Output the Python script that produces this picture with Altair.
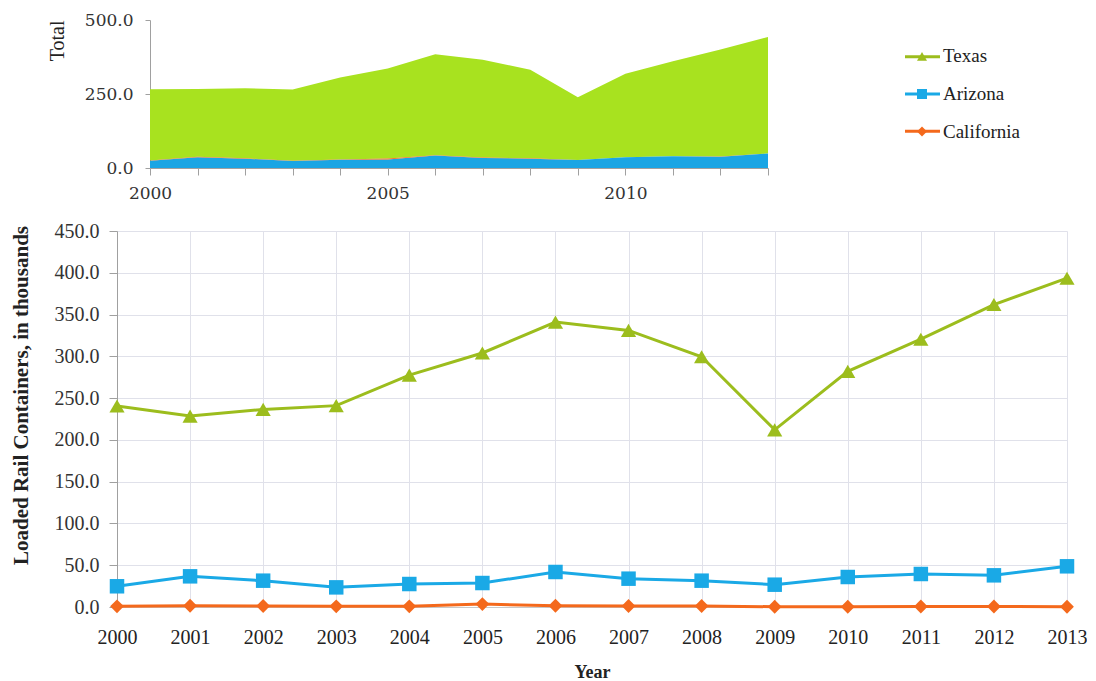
import altair as alt
import pandas as pd

years = list(range(2000, 2014))
series = ["Texas", "Arizona", "California"]
texas = [240.5, 228.5, 236.5, 241.0, 277.5, 304.0, 341.0, 331.0, 299.5, 212.0, 282.0, 320.5, 362.0, 393.5]
arizona = [24.8, 36.7, 31.5, 23.5, 27.5, 28.7, 41.9, 33.9, 31.5, 26.7, 35.9, 39.5, 37.9, 48.7]
california = [0.8, 1.5, 1.2, 0.8, 0.8, 3.5, 1.5, 1.2, 1.2, 0.3, 0.3, 0.6, 0.6, 0.3]
stack_order = [2, 0, 1]

line_colors = ["#9CBD1D", "#1AA9E6", "#F4691C"]
area_colors = ["#A8E21F", "#1AA5E4", "#F4691C"]
shapes = ["triangle-up", "square", "diamond"]
marker_sizes = [230, 190, 180]

rows = []
for s, vals, o in zip(series, [texas, arizona, california], stack_order):
    for y, v in zip(years, vals):
        rows.append({"year": y, "series": s, "value": v, "ord": o})
df = pd.DataFrame(rows)
leg_df = pd.DataFrame({"series": series})

SERIF = "Liberation Serif"
TOPF = "DejaVu Serif"

color_line = alt.Color("series:N", scale=alt.Scale(domain=series, range=line_colors), legend=None)
shape_enc = alt.Shape("series:N", scale=alt.Scale(domain=series, range=shapes), legend=None)

# ---- top stacked area (plot shifted right inside its view) ----
TOP_W = 651
top_area = alt.Chart(df).mark_area(opacity=1).encode(
    x=alt.X("year:Q", scale=alt.Scale(domain=[2000, 2013], nice=False, zero=False, range=[33, TOP_W]),
            axis=alt.Axis(values=years, labelExpr="datum.value % 5 == 0 ? toString(datum.value) : ''",
                          title=None, grid=False, tickSize=7, labelPadding=10, labelFlush=False,
                          labelOverlap=False,
                          domainColor="#A0A0A0", tickColor="#A0A0A0", labelColor="#333333",
                          labelFont=TOPF, labelFontSize=17)),
    y=alt.Y("value:Q", stack="zero", scale=alt.Scale(domain=[0, 500], nice=False),
            axis=alt.Axis(values=[0, 250, 500], format=".1f", title="Total", titleAnchor="end",
                          offset=-33, grid=False, tickSize=5, labelPadding=12, titlePadding=17,
                          domainColor="#A0A0A0", tickColor="#A0A0A0", labelColor="#333333",
                          labelFont=TOPF, labelFontSize=17, titleFont=SERIF, titleFontSize=20,
                          titleFontWeight="normal", titleColor="#222222")),
    color=alt.Color("series:N", scale=alt.Scale(domain=series, range=area_colors), legend=None),
    order=alt.Order("ord:Q"),
)

# ---- legend, drawn to the right of the area plot ----
leg_y = alt.Y("series:N", sort=series, scale=alt.Scale(domain=series, padding=0.97), axis=None)
leg_rule = alt.Chart(leg_df).mark_rule(strokeWidth=3).encode(
    y=leg_y, x=alt.value(788), x2=alt.value(823), color=color_line)
leg_pt = alt.Chart(leg_df).mark_point(filled=True, opacity=1, size=100).encode(
    y=leg_y, x=alt.value(805), color=color_line, shape=shape_enc)
leg_txt = alt.Chart(leg_df).mark_text(align="left", baseline="middle", font=SERIF,
                                      fontSize=19, color="#222222").encode(
    y=leg_y, x=alt.value(826), text="series:N")

top = alt.layer(top_area, leg_rule, leg_pt, leg_txt).resolve_scale(
    y="independent", color="independent"
).properties(width=TOP_W, height=148)

# ---- main line chart ----
base = alt.Chart(df).encode(
    x=alt.X("year:Q", scale=alt.Scale(domain=[2000, 2013], nice=False, zero=False),
            axis=alt.Axis(values=years, format="d", title="Year", ticks=False, labelPadding=20,
                          labelFlush=False, labelOverlap=False,
                          gridColor="#E0E1EA", domainColor="#C8C8C8", labelColor="#222222",
                          labelFont=SERIF, labelFontSize=20, titleFont=SERIF, titleFontSize=18,
                          titleFontWeight="bold", titleColor="#222222", titlePadding=16)),
    y=alt.Y("value:Q", scale=alt.Scale(domain=[0, 450], nice=False),
            axis=alt.Axis(values=list(range(0, 451, 50)), format=".1f",
                          title="Loaded Rail Containers, in thousands", titleY=164,
                          tickSize=8, labelPadding=10, titlePadding=23,
                          gridColor="#E0E1EA", domainColor="#A0A0A0", tickColor="#A0A0A0",
                          labelColor="#333333", labelFont=SERIF, labelFontSize=20,
                          titleFont=SERIF, titleFontSize=21, titleFontWeight="bold",
                          titleColor="#222222")),
    color=color_line,
)
lines = base.mark_line(strokeWidth=3)
points = base.mark_point(filled=True, opacity=1).encode(
    shape=shape_enc,
    size=alt.Size("series:N", scale=alt.Scale(domain=series, range=marker_sizes), legend=None),
)
main = alt.layer(lines, points).properties(width=950, height=376)

chart = alt.vconcat(top, main, spacing=20).resolve_scale(
    x="independent", y="independent", color="independent", shape="independent"
).properties(
    padding={"left": 2, "top": 3, "right": 0, "bottom": 0}
).configure_view(stroke=None)

chart.save("out.html", embed_options={"renderer": "svg", "actions": False})
